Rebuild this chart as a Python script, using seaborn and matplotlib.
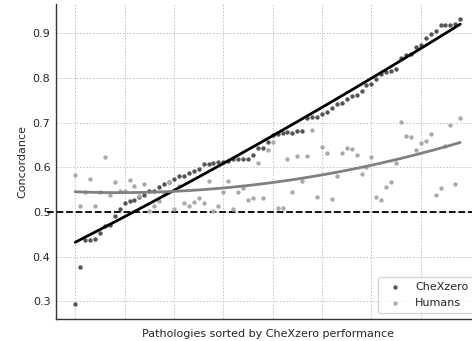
import numpy as np
import pandas as pd
import matplotlib
matplotlib.use("Agg")
import matplotlib.pyplot as plt
import seaborn as sns

chexzero = [0.293, 0.377, 0.436, 0.438, 0.440, 0.452, 0.469, 0.470, 0.490, 0.507,
            0.519, 0.525, 0.527, 0.534, 0.537, 0.547, 0.548, 0.555, 0.563, 0.568,
            0.574, 0.580, 0.580, 0.587, 0.592, 0.596, 0.607, 0.607, 0.610, 0.611,
            0.612, 0.614, 0.618, 0.618, 0.619, 0.619, 0.627, 0.644, 0.644, 0.657,
            0.672, 0.674, 0.677, 0.679, 0.677, 0.682, 0.682, 0.710, 0.712, 0.713,
            0.719, 0.723, 0.732, 0.742, 0.743, 0.753, 0.760, 0.763, 0.771, 0.785,
            0.786, 0.798, 0.809, 0.813, 0.815, 0.820, 0.846, 0.852, 0.855, 0.869,
            0.873, 0.889, 0.899, 0.905, 0.918, 0.918, 0.918, 0.922, 0.932]
humans = [0.583, 0.514, 0.544, 0.574, 0.514, 0.544, 0.622, 0.538, 0.567, 0.547,
          0.548, 0.572, 0.559, 0.535, 0.562, 0.503, 0.513, 0.525, 0.540, 0.568,
          0.506, 0.559, 0.521, 0.514, 0.522, 0.532, 0.521, 0.569, 0.501, 0.514,
          0.545, 0.569, 0.507, 0.545, 0.553, 0.526, 0.531, 0.610, 0.531, 0.639,
          0.657, 0.509, 0.509, 0.619, 0.545, 0.625, 0.569, 0.625, 0.683, 0.534,
          0.645, 0.632, 0.528, 0.580, 0.633, 0.644, 0.640, 0.627, 0.586, 0.601,
          0.624, 0.534, 0.527, 0.556, 0.566, 0.610, 0.701, 0.670, 0.668, 0.638,
          0.654, 0.660, 0.674, 0.539, 0.554, 0.648, 0.694, 0.562, 0.710]
series_names = ["CheXzero", "Humans"]
yticks = [0.3, 0.4, 0.5, 0.6, 0.7, 0.8, 0.9]

idx = np.arange(len(chexzero))
df = pd.DataFrame({"idx": idx, "CheXzero": chexzero, "Humans": humans})

sns.set_style("ticks")
plt.rcParams["font.family"] = ["DejaVu Sans"]

fig = plt.figure(figsize=(4.72, 3.41), dpi=100)
ax = fig.add_axes([56 / 472, 22 / 341, (479.5 - 56) / 472, 315 / 341])

dark = "#555555"
light = "#aaaaaa"

sns.scatterplot(data=df, x="idx", y="CheXzero", color=dark, s=10, linewidth=0,
                label=series_names[0], ax=ax, zorder=3)
sns.scatterplot(data=df, x="idx", y="Humans", color=light, s=10, linewidth=0,
                label=series_names[1], ax=ax, zorder=3)
sns.regplot(data=df, x="idx", y="CheXzero", order=2, ci=None, scatter=False,
            color="black", line_kws={"lw": 2, "zorder": 4}, ax=ax)
sns.regplot(data=df, x="idx", y="Humans", order=2, ci=None, scatter=False,
            color="#808080", line_kws={"lw": 2, "zorder": 4}, ax=ax)

ax.axhline(0.5, xmin=-0.022, xmax=1, color="black", lw=1.3, ls="--",
           clip_on=False, zorder=2)

ax.set_xlim(-3.9, 81.9)
ax.set_ylim(0.26, 0.966)
ax.set_xticks(range(0, 79, 10))
ax.set_xticklabels([])
ax.set_yticks(yticks)
ax.set_yticklabels([f"{t:.1f}" for t in yticks])
ax.tick_params(axis="both", length=0, labelsize=8, pad=4)
ax.grid(True, color="#bbbbbb", ls=(0, (2, 2)), lw=0.6, zorder=0)
ax.set_axisbelow(True)
ax.set_xlabel("Pathologies sorted by CheXzero performance", fontsize=8, labelpad=3)
ax.set_ylabel("Concordance", fontsize=8, labelpad=4)
for s in ["top", "right"]:
    ax.spines[s].set_visible(False)
for s in ["left", "bottom"]:
    ax.spines[s].set_color("#333333")
    ax.spines[s].set_linewidth(1.0)

leg = ax.legend(loc="lower right", fontsize=8, frameon=True, markerscale=1.0,
                handletextpad=0.8, borderpad=0.5)
leg.get_frame().set_edgecolor("#cccccc")

fig.savefig("out.png", dpi=100)
